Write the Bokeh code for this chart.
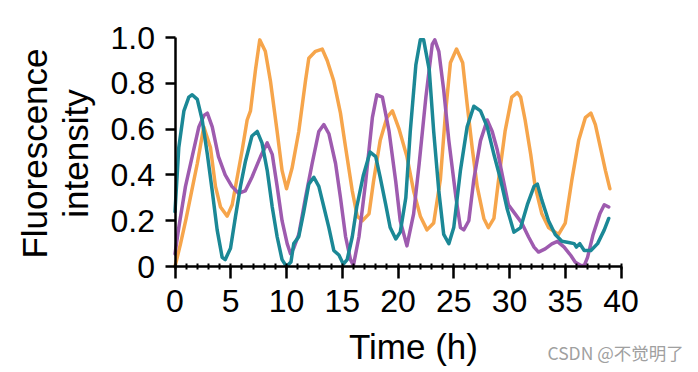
import math
from bokeh.plotting import figure
from bokeh.models import Range1d, SingleIntervalTicker, FixedTicker, Label
from bokeh.embed import file_html
from bokeh.resources import INLINE

# Time-lapse fluorescence traces of three reporters (normalized intensity)
orange_t = [0, 0.5, 1, 1.5, 2, 2.58, 3.18, 3.63, 4.08, 4.68, 5.13, 5.58, 6.03, 6.47, 6.77, 7.22,
            7.6, 8.1, 8.56, 9.16, 9.6, 10.0, 10.5, 11.1, 11.7, 12.0, 12.6, 13.2, 13.65, 14.24,
            14.84, 15.3, 15.9, 16.34, 16.8, 17.4, 17.8, 18.4, 19.0, 19.5, 20.1, 20.8, 21.4, 22.0,
            22.6, 23.2, 23.8, 24.26, 24.7, 25.25, 25.8, 26.2, 26.65, 27.1, 27.7, 28.1, 28.6, 29.0,
            29.6, 30.2, 30.7, 31.0, 31.4, 31.9, 32.3, 32.9, 33.5, 34.4, 35.0, 35.6, 36.2, 36.8,
            37.3, 37.7, 38.2, 38.6, 39.0]
orange_v = [0.0, 0.1, 0.21, 0.33, 0.45, 0.61, 0.52, 0.35, 0.26, 0.22, 0.27, 0.39, 0.51, 0.64, 0.68,
            0.86, 0.99, 0.94, 0.81, 0.59, 0.42, 0.34, 0.43, 0.59, 0.81, 0.91, 0.94, 0.95, 0.90, 0.81,
            0.67, 0.52, 0.33, 0.22, 0.20, 0.23, 0.37, 0.55, 0.65, 0.68, 0.60, 0.48, 0.33, 0.22,
            0.16, 0.19, 0.38, 0.67, 0.89, 0.95, 0.89, 0.71, 0.52, 0.35, 0.21, 0.17, 0.21, 0.37,
            0.59, 0.74, 0.76, 0.74, 0.64, 0.49, 0.35, 0.23, 0.17, 0.14, 0.19, 0.38, 0.55, 0.65,
            0.67, 0.62, 0.51, 0.42, 0.34]

teal_t = [0, 0.34, 0.8, 1.24, 1.54, 2.0, 2.44, 2.9, 3.34, 3.78, 4.23, 4.5, 4.98, 5.43, 5.87, 6.32,
          6.9, 7.37, 7.8, 8.27, 8.72, 9.16, 9.6, 10.0, 10.4, 10.65, 11.1, 11.55, 12.0, 12.45, 12.9,
          13.35, 13.8, 14.24, 14.7, 15.1, 15.44, 15.9, 16.3, 16.9, 17.5, 18.0, 18.4, 18.9, 19.3,
          19.8, 20.2, 20.7, 21.1, 21.6, 22.0, 22.3, 22.8, 23.2, 23.66, 24.1, 24.56, 25.0, 25.6,
          26.2, 26.8, 27.4, 28.0, 28.6, 29.2, 29.8, 30.4, 31.0, 31.6, 32.2, 32.5, 32.9, 33.5,
          34.1, 34.7, 35.3, 35.8, 36.0, 36.3, 36.7, 37.3, 37.9, 38.5, 38.9]
teal_v = [0.24, 0.52, 0.68, 0.74, 0.75, 0.73, 0.64, 0.49, 0.33, 0.16, 0.04, 0.03, 0.08, 0.22, 0.35,
          0.46, 0.57, 0.59, 0.54, 0.42, 0.26, 0.13, 0.03, 0.0, 0.02, 0.10, 0.13, 0.24, 0.36, 0.39,
          0.35, 0.26, 0.17, 0.07, 0.05, 0.01, 0.03, 0.13, 0.26, 0.40, 0.50, 0.48, 0.39, 0.27, 0.17,
          0.12, 0.15, 0.30, 0.59, 0.88, 0.99, 0.99, 0.86, 0.59, 0.33, 0.14, 0.10, 0.17, 0.42,
          0.61, 0.70, 0.68, 0.61, 0.49, 0.38, 0.25, 0.15, 0.17, 0.27, 0.35, 0.36, 0.29, 0.20,
          0.14, 0.11, 0.105, 0.10, 0.085, 0.10, 0.07, 0.07, 0.10, 0.16, 0.21]

purple_t = [0, 0.34, 0.94, 1.54, 2.14, 2.6, 2.9, 3.34, 3.9, 4.5, 5.1, 5.7, 6.3, 6.9, 7.67, 8.27,
            8.72, 9.16, 9.6, 10.06, 10.36, 10.65, 11.1, 11.7, 12.3, 12.9, 13.35, 13.8, 14.4, 14.84,
            15.3, 15.74, 16.0, 16.5, 17.1, 17.7, 18.1, 18.6, 19.2, 19.8, 20.2, 20.8, 21.4, 21.9,
            22.5, 23.07, 23.3, 23.66, 24.1, 24.56, 25.2, 25.6, 25.9, 26.35, 26.8, 27.4, 28.0, 28.45,
            28.9, 29.35, 29.9, 30.5, 31.1, 31.7, 32.2, 32.6, 33.2, 33.8, 34.3, 34.9, 35.5, 35.9,
            36.4, 36.7, 37.0, 37.5, 38.1, 38.5, 38.9]
purple_v = [0.055, 0.17, 0.35, 0.48, 0.61, 0.66, 0.67, 0.61, 0.48, 0.40, 0.35, 0.32, 0.33, 0.39,
            0.48, 0.54, 0.49, 0.35, 0.20, 0.10, 0.056, 0.08, 0.14, 0.30, 0.45, 0.59, 0.62, 0.58,
            0.45, 0.30, 0.13, 0.03, 0.005, 0.13, 0.37, 0.65, 0.75, 0.74, 0.59, 0.37, 0.20, 0.09,
            0.23, 0.45, 0.74, 0.97, 0.99, 0.94, 0.77, 0.55, 0.30, 0.17, 0.16, 0.20, 0.38, 0.55,
            0.64, 0.59, 0.51, 0.40, 0.27, 0.23, 0.19, 0.13, 0.085, 0.063, 0.077, 0.099, 0.11,
            0.085, 0.048, 0.019, 0.004, 0.004, 0.04, 0.14, 0.23, 0.27, 0.26]

x_bounds = (0, 40)
y_ticks = [0, 0.2, 0.4, 0.6, 0.8, 1.0]
y_tick_labels = {0: "0", 0.2: "0.2", 0.4: "0.4", 0.6: "0.6", 0.8: "0.8", 1.0: "1.0"}

FONT = "Liberation Sans"
W, H = 698, 372

# The frame fills the whole canvas; the axes sit at x=0 / y=0 inside it,
# which leaves room for the titles drawn as labels around the data area.
p = figure(width=W, height=H, output_backend="svg", toolbar_location=None,
           x_range=Range1d(-15.65, 46.95), y_range=Range1d(-0.463, 1.162),
           min_border=0, min_border_left=0, min_border_right=0,
           min_border_top=0, min_border_bottom=0)
p.outline_line_color = None
p.grid.visible = False
p.background_fill_color = "white"
p.border_fill_color = "white"

for t, v, c in ((orange_t, orange_v, "#F6A54B"),
                (purple_t, purple_v, "#9E5BAF"),
                (teal_t, teal_v, "#1B8896")):
    p.line(t, v, line_color=c, line_width=3.5, line_join="round", line_cap="round")

xa = p.xaxis[0]
xa.fixed_location = 0
xa.bounds = x_bounds
xa.ticker = SingleIntervalTicker(interval=5, num_minor_ticks=5)
xa.major_tick_out = 12
xa.major_tick_in = 0
xa.minor_tick_line_width = 2
xa.minor_tick_in = 3
xa.minor_tick_out = 3
xa.minor_tick_line_color = "black"
xa.major_label_standoff = 11

ya = p.yaxis[0]
ya.fixed_location = 0
ya.bounds = (y_ticks[0], y_ticks[-1])
ya.ticker = FixedTicker(ticks=y_ticks)
ya.major_label_overrides = y_tick_labels
ya.major_tick_out = 10
ya.major_tick_in = 0
ya.minor_tick_line_color = None
ya.major_label_standoff = 10

for ax in (xa, ya):
    ax.axis_line_color = "black"
    ax.axis_line_width = 2.5
    ax.major_tick_line_color = "black"
    ax.major_tick_line_width = 2.5
    ax.major_label_text_font = FONT
    ax.major_label_text_font_size = "32px"
    ax.major_label_text_color = "black"

def title(text, x, y, angle=0.0, size="35px", color="black", align="center", font=FONT):
    p.add_layout(Label(x=x, y=y, x_units="screen", y_units="screen", text=text,
                       angle=angle, text_align=align, text_baseline="alphabetic",
                       text_font=font, text_font_size=size, text_color=color))

# axis titles (screen y counts up from the bottom edge)
title("Time (h)", 413, H - 346)
title("Fluorescence", 34, H - 153, angle=math.pi / 2)
title("intensity", 75, H - 153, angle=math.pi / 2)

title("CSDN @不觉明了", 547, H - 352, size="17.5px", color="#a0a0a0", align="left",
      font="Noto Sans CJK SC")

open("out.html", "w").write(file_html(p, INLINE))
